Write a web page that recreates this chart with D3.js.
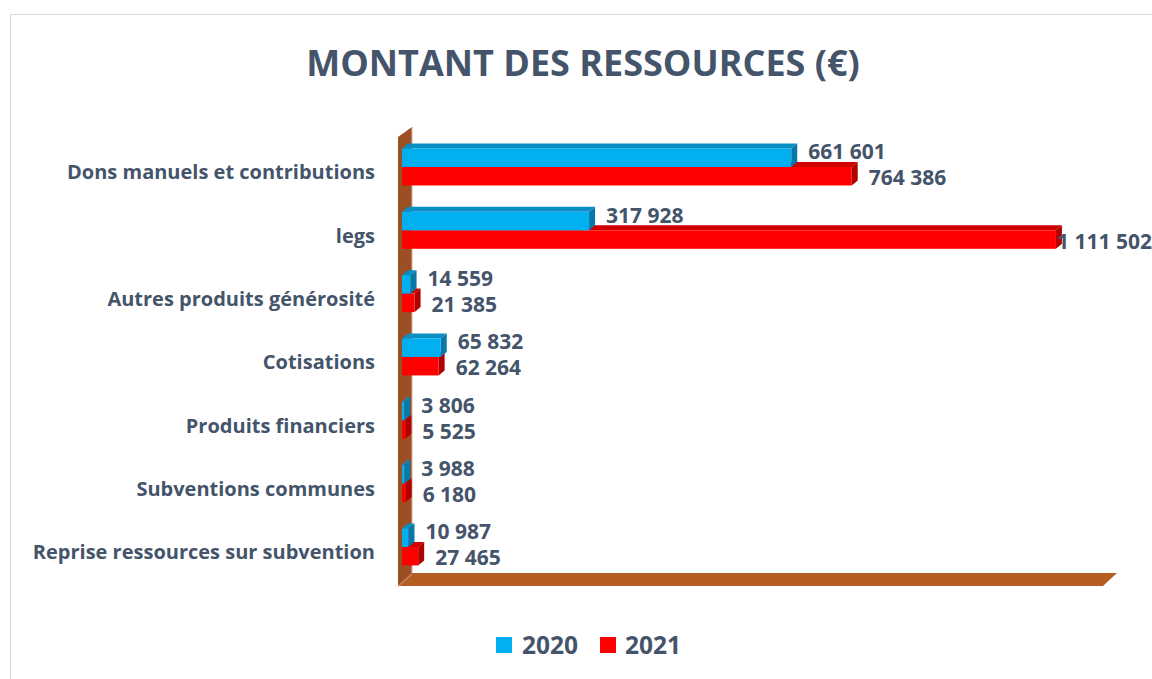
<!DOCTYPE html>
<html><head><meta charset="utf-8">
<script src="https://cdn.jsdelivr.net/npm/d3@7"></script>
<style>
body{margin:0;background:#fff;}
svg{display:block;font-family:"Open Sans",Lato,sans-serif;}
</style></head>
<body><svg id="c" width="1152" height="679"></svg>
<script>
const title = "MONTANT DES RESSOURCES (€)";
const categories = ["Dons manuels et contributions","legs","Autres produits générosité","Cotisations","Produits financiers","Subventions communes","Reprise ressources sur subvention"];
const seriesNames = ["2020","2021"];
const values2020 = [661601,317928,14559,65832,3806,3988,10987];
const values2021 = [764386,1111502,21385,62264,5525,6180,27465];
const axisMax = 1200000;

const W=1152,H=679;
const textCol="#44546a";
const colors={"2020":{front:"#00b0f0",top:"#0a8fc4",side:"#0878a6"},"2021":{front:"#ff0000",top:"#d00000",side:"#b00000"}};
const fr=d3.formatLocale({decimal:",",thousands:" ",grouping:[3],currency:["","€"]});
const fmt=fr.format(",d");

const svg=d3.select("#c");
// chart border
svg.append("path").attr("d",`M10.5,${H} V14.5 H${W}`).attr("fill","none").attr("stroke","#d9d9d9");

svg.append("text").attr("x",583).attr("y",76).attr("text-anchor","middle")
  .attr("font-size",36).attr("font-weight",700).attr("fill",textCol).text(title);

const x=d3.scaleLinear().domain([0,axisMax]).range([402,1108]);
const y0=d3.scaleBand().domain(categories).range([135.3,578.6]).paddingInner(0.416).paddingOuter(0.208);
const y1=d3.scaleBand().domain(seriesNames).range([0,y0.bandwidth()]);
const dx=6,dy=5;

// wall and floor
const floorTop=573, floorBot=586;
const wx=398, depth=14;
svg.append("path").attr("d",`M${wx},${floorBot} L${wx},137 L${wx+depth},127 L${wx+depth},${floorTop} Z`).attr("fill","#9c4f22");
svg.append("path").attr("d",`M${wx},${floorBot} L${wx+depth},${floorTop} L${x(axisMax)+9},${floorTop} L${x(axisMax)-5},${floorBot} Z`).attr("fill","#b55e24");
svg.append("path").attr("d",`M${wx},${floorBot} L${wx+depth},${floorTop} L${wx+depth},${floorTop+2} L${wx+2},${floorBot} Z`).attr("fill","#c98a5e").attr("opacity",0.7);
svg.append("line").attr("x1",wx+depth).attr("x2",wx+depth).attr("y1",127).attr("y2",floorTop).attr("stroke","#d7b49a").attr("stroke-width",1);

const rows=categories.map((c,i)=>({c,v:{"2020":values2020[i],"2021":values2021[i]}}));
// draw 2021 first then 2020 on top
["2021","2020"].forEach(s=>{
  const g=svg.append("g");
  rows.forEach(r=>{
    const yt=y0(r.c)+y1(s), h=y1.bandwidth(), x0=x(0), xe=x(r.v[s]);
    g.append("path").attr("d",`M${x0},${yt} L${x0+dx},${yt-dy} L${xe+dx},${yt-dy} L${xe},${yt} Z`).attr("fill",colors[s].top);
    g.append("path").attr("d",`M${xe},${yt} L${xe+dx},${yt-dy} L${xe+dx},${yt+h-dy} L${xe},${yt+h} Z`).attr("fill",colors[s].side);
    g.append("rect").attr("x",x0).attr("y",yt).attr("width",xe-x0).attr("height",h).attr("fill",colors[s].front);
  });
});

// category labels
svg.append("g").selectAll("text").data(categories).join("text")
  .attr("x",375).attr("y",d=>y0(d)+y0.bandwidth()/2+12.5).attr("text-anchor","end")
  .attr("font-size",20).attr("font-weight",700).attr("fill",textCol).text(d=>d);

// value labels
const lab=svg.append("g");
const off={"2020":-15,"2021":11};
seriesNames.forEach(s=>{
  rows.forEach(r=>{
    const cy=y0(r.c)+y0.bandwidth()/2+off[s];
    const t=lab.append("text").attr("y",cy+7.5).attr("font-size",21).attr("font-weight",700).attr("fill",textCol).text(fmt(r.v[s]));
    const w=t.node().getComputedTextLength();
    t.attr("x",Math.min(x(r.v[s])+17,W-w));
  });
});

// legend
const lg=svg.append("g");
[["2020",496,522],["2021",600,625]].forEach(([s,rx,tx])=>{
  lg.append("rect").attr("x",rx).attr("y",637).attr("width",16).attr("height",16).attr("fill",colors[s].front);
  lg.append("text").attr("x",tx).attr("y",654).attr("font-size",24.5).attr("font-weight",700).attr("fill",textCol).text(s);
});
</script></body></html>
